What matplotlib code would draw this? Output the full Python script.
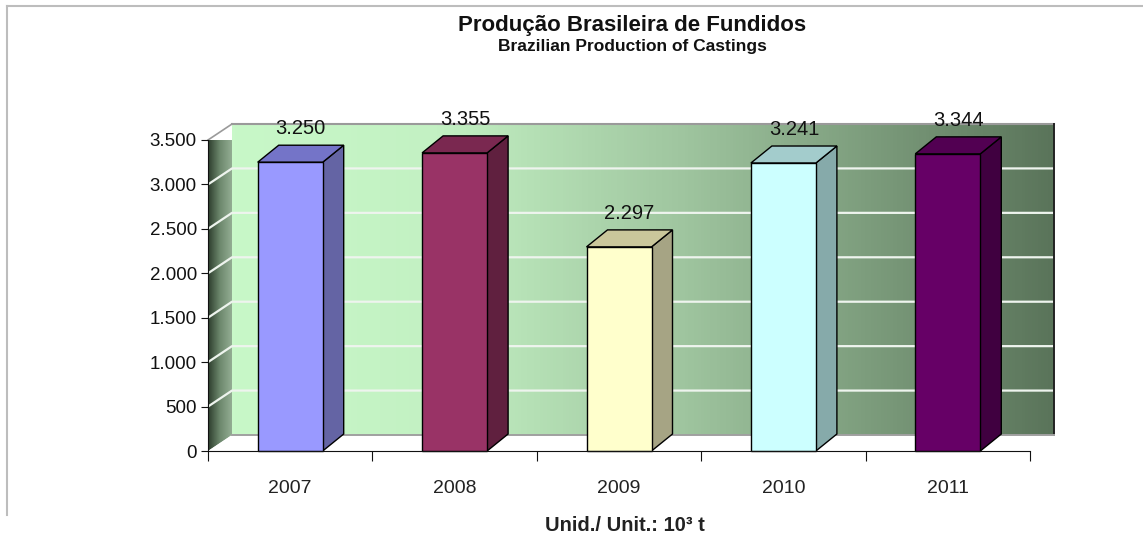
import numpy as np
import matplotlib
matplotlib.use("Agg")
import matplotlib.pyplot as plt
import matplotlib.patches as pat
from matplotlib.colors import LinearSegmentedColormap

plt.rcParams['font.family'] = ['Liberation Sans', 'DejaVu Sans']

years = ["2007", "2008", "2009", "2010", "2011"]
production = [3250, 3355, 2297, 3241, 3344]  # 10^3 t
y_ticks = [0, 500, 1000, 1500, 2000, 2500, 3000, 3500]

front_colors = ["#9999ff", "#993366", "#ffffcc", "#ccffff", "#660066"]
top_colors = ["#7474c8", "#7a2850", "#cac79b", "#a3cccc", "#520052"]
side_colors = ["#6464a4", "#60203f", "#a6a484", "#86aaaa", "#400040"]

def br(v):
    return f"{v:,}".replace(",", ".")

W, H = 1143, 537
fig = plt.figure(figsize=(W / 100, H / 100), dpi=100)

# front plane of the plot in pixels: x 208..1030, y 451 (0) .. 140 (3500)
ax = fig.add_axes([208 / W, 1 - 451 / H, 822 / W, 311 / H])
ax.set_xlim(-0.5, 4.5)
ax.set_ylim(0, 3500)
ax.autoscale(False)

upx = 5 / 822          # data x per pixel
upy = 3500 / 311       # data y per pixel
wdx, wdy = 24 * upx, 16 * upy   # wall depth
bdx, bdy = 21 * upx, 17 * upy   # bar depth
bw = 65 * upx

x0, x1 = -0.5, 4.5
ytop = 3500

# back wall gradient
cmap_back = LinearSegmentedColormap.from_list(
    "back", [(0.0, "#c8f8c8"), (0.25, "#c3f1c3"), (0.55, "#9fc59f"), (1.0, "#5a745a")])
grad = np.linspace(0, 1, 256).reshape(1, -1)
im = ax.imshow(grad, cmap=cmap_back, aspect="auto",
               extent=(x0 + wdx, x1 + wdx, wdy, ytop + wdy), zorder=0)
im.set_clip_on(False)

# left wall gradient
cmap_left = LinearSegmentedColormap.from_list("left", ["#2c3c2c", "#6d886d", "#93ad93"])
lw_poly = pat.Polygon([(x0, 0), (x0 + wdx, wdy), (x0 + wdx, ytop + wdy), (x0, ytop)],
                      closed=True, facecolor="none", edgecolor="none")
ax.add_patch(lw_poly)
lw_poly.set_clip_on(False)
im2 = ax.imshow(grad, cmap=cmap_left, aspect="auto",
                extent=(x0, x0 + wdx, 0, ytop + wdy), zorder=0)
im2.set_clip_path(lw_poly)

# floor
floor = pat.Polygon([(x0, 0), (x0 + wdx, wdy), (x1 + wdx, wdy), (x1, 0)],
                    closed=True, facecolor="#ffffff", edgecolor="none", zorder=0.5, clip_on=False)
ax.add_patch(floor)

# gridlines
for v in y_ticks[1:-1]:
    ax.plot([x0, x0 + wdx, x1 + wdx], [v, v + wdy, v + wdy], color="#eef4ee",
            lw=1.6, zorder=1, clip_on=False)

# wall edges
ax.plot([x0 + wdx, x1 + wdx], [ytop + wdy, ytop + wdy], color="#9a9a9a", lw=1.5, zorder=1, clip_on=False)
ax.plot([x0, x0 + wdx], [ytop, ytop + wdy], color="#9a9a9a", lw=1.2, zorder=1, clip_on=False)
ax.plot([x1 + wdx, x1 + wdx], [wdy, ytop + wdy], color="#222222", lw=1.4, zorder=1, clip_on=False)
ax.plot([x0 + wdx, x1 + wdx], [wdy, wdy], color="#a0a0a0", lw=1.4, zorder=1, clip_on=False)

# bars
for i, v in enumerate(production):
    l, r = i - bw / 2, i + bw / 2
    ax.add_patch(pat.Polygon([(r, 0), (r + bdx, bdy), (r + bdx, v + bdy), (r, v)],
                             facecolor=side_colors[i], edgecolor="black", lw=1, zorder=3, clip_on=False))
    ax.add_patch(pat.Polygon([(l, v), (l + bdx, v + bdy), (r + bdx, v + bdy), (r, v)],
                             facecolor=top_colors[i], edgecolor="black", lw=1, zorder=3, clip_on=False))
    ax.add_patch(pat.Rectangle((l, 0), bw, v, facecolor=front_colors[i],
                               edgecolor="black", lw=1, zorder=4, clip_on=False))
    ax.annotate(br(v), (i + bdx / 2, v + bdy), xytext=(0, 8), textcoords="offset points",
                ha="center", va="baseline", fontsize=14.5, color="#111111", zorder=5,
                annotation_clip=False)

# axes
for s in ["top", "right"]:
    ax.spines[s].set_visible(False)
ax.spines["left"].set_color("#111111")
ax.spines["bottom"].set_color("#111111")
ax.spines["left"].set_zorder(6)
ax.spines["bottom"].set_zorder(6)
ax.set_yticks(y_ticks)
ax.set_yticklabels([br(v) for v in y_ticks])
ax.tick_params(axis="y", length=5, pad=3, labelsize=13.5, colors="#111111")
ax.set_xticks(np.arange(-0.5, 5, 1))
ax.set_xticklabels([])
ax.tick_params(axis="x", which="major", length=7, color="#111111")
ax.set_xticks(range(len(years)), minor=True)
ax.set_xticklabels(years, minor=True)
ax.tick_params(axis="x", which="minor", length=0, pad=21, labelsize=14, labelcolor="#222222")
ax.set_facecolor("none")

# titles
fig.text(632 / W, 1 - 31 / H, "Produção Brasileira de Fundidos", ha="center", va="baseline",
         fontsize=16, fontweight="bold", color="#111111")
fig.text(632 / W, 1 - 51 / H, "Brazilian Production of Castings", ha="center", va="baseline",
         fontsize=12.5, fontweight="bold", color="#111111")
fig.text(625 / W, 1 - 531 / H, "Unid./ Unit.: 10³ t", ha="center", va="baseline",
         fontsize=14.5, fontweight="bold", color="#222222")

# frame lines
fig.add_artist(plt.Line2D([7 / W, 1], [1 - 6 / H, 1 - 6 / H], color="#bdbdbd", lw=1.5))
fig.add_artist(plt.Line2D([7 / W, 7 / W], [1 - 6 / H, 1 - 515 / H], color="#bdbdbd", lw=1.5))

fig.savefig("out.png", dpi=100)
